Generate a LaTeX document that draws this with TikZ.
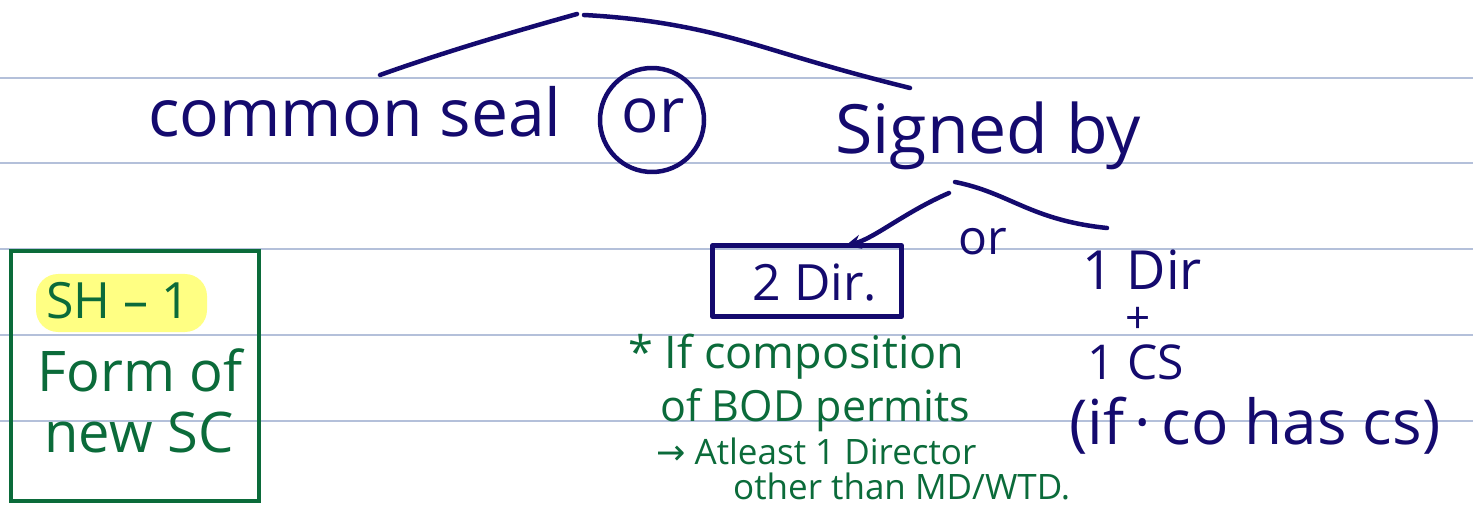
\documentclass[tikz,border=0pt]{standalone}
\usepackage{fontspec}
\setmainfont{Open Sans}
\newfontfamily\symfont{DejaVu Sans}
\usetikzlibrary{arrows.meta}
\definecolor{ink}{HTML}{140A6E}
\definecolor{gink}{HTML}{0B6B3A}
\definecolor{rule}{HTML}{B4C0DA}
\definecolor{hl}{HTML}{FFFF6E}
\tikzset{
  ruled/.style={draw=rule, line width=1.2pt},
  pen/.style={draw=ink, line width=4.5pt, line cap=round, line join=round},
  gpen/.style={draw=gink, line width=4pt},
  bluetxt/.style={text=ink, inner sep=0pt, anchor=center},
  greentxt/.style={text=gink, inner sep=0pt, anchor=center},
}
\newcommand{\fs}[1]{\fontsize{#1}{#1}\selectfont}
\begin{document}
\begin{tikzpicture}[x=1pt,y=-1pt]
\useasboundingbox[fill=white] (0,0) rectangle (1473,505);
% ruled lines
\foreach \yy in {78,163,249,335,421}
  \draw[ruled] (0,\yy) -- (1473,\yy);

% top line
\node[bluetxt] (seal) at (355,112) {\fs{66}common seal};
\node[pen, circle, minimum size=104pt, inner sep=0pt] (orc) at (652,120) {};
\node[bluetxt] (ortxt) at (653,116) {\fs{62}or};
\node[bluetxt] (signed) at (988,136) {\fs{68}Signed by};

\coordinate (apexL) at (577,14);
\coordinate (apexR) at (584,15);
\coordinate (sealTop) at (380,75);
\coordinate (signedTop) at (910,88);
\draw[pen] (sealTop) .. controls (450,50) and (520,30) .. (apexL);
\draw[pen] (apexR) .. controls (680,20) and (740,40) .. (790,55)
  .. controls (840,70) and (870,78) .. (signedTop);

% second branching
\node[pen, rectangle, minimum width=189pt, minimum height=71pt, inner sep=0pt] (twobox) at (807,281) {};
\node[bluetxt] (twodir) at (815,283) {\fs{50}2 Dir.};
\node[bluetxt] (or2) at (983,242) {\fs{48}or};
\node[bluetxt] (onedir) at (1142,270) {\fs{54}1 Dir};
\node[bluetxt, text height=22pt, text depth=0pt] (plus) at (1138,322) {\fs{44}+};
\node[bluetxt] (onecs) at (1136,362) {\fs{48}1 CS};
\node[bluetxt] (ifco) at (1255,426) {\fs{62}(if\,·\,co has cs)};

\coordinate (brA) at (949,193);
\coordinate (brB) at (955,182);
\coordinate (brEnd) at (1107,228);
\coordinate (arrTip) at (845,246);
\draw[pen, -{Stealth[length=16pt,width=14pt]}] (brA) .. controls (905,212) and (875,238) .. (arrTip);
\draw[pen] (brB) .. controls (1010,193) and (1030,220) .. (brEnd);

% green box
\node[gpen, rectangle, minimum width=248pt, minimum height=250pt, inner sep=0pt] (shbox) at (135,376) {};
\fill[hl, opacity=0.85, rounded corners=22pt] (36,274) rectangle (207,332);
\node[greentxt] (sh) at (118,301) {\fs{50}SH – 1};
\node[greentxt] (form) at (140,370) {\fs{56}Form of};
\node[greentxt] (newsc) at (139,432) {\fs{56}new SC};

% green notes
\node[greentxt, anchor=west] (n1) at (628,357) {\fs{45}* If composition};
\node[greentxt, anchor=west] (n2) at (660,410) {\fs{43}of BOD permits};
\node[greentxt, anchor=base west, text depth=0pt] (n3) at (656,464) {\fs{35}{\symfont →} Atleast 1 Director};
\node[greentxt, anchor=base west, text depth=0pt] (n4) at (733,499) {\fs{35}other than MD/WTD.};
\end{tikzpicture}
\end{document}
